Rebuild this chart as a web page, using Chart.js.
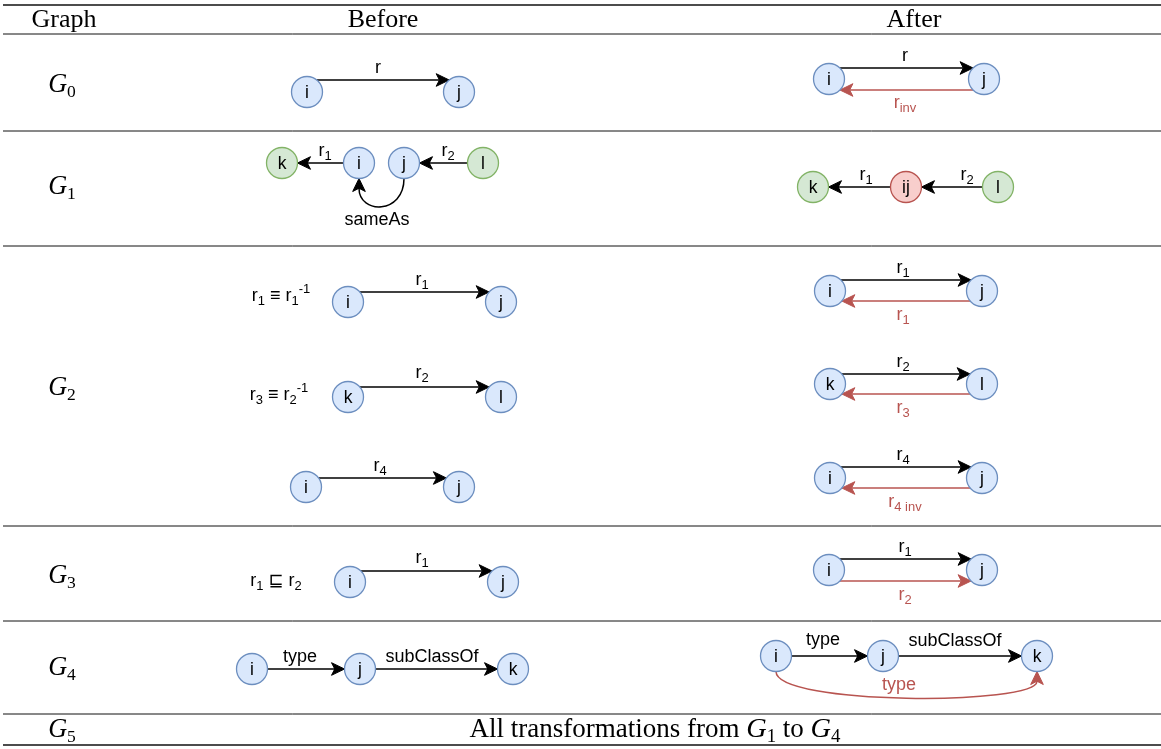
<!DOCTYPE html>
<html><head><meta charset="utf-8">
<script src="https://cdn.jsdelivr.net/npm/chart.js@4/dist/chart.umd.min.js"></script>
<style>html,body{margin:0;padding:0;background:#fff;overflow:hidden}#c{display:block}</style>
</head><body>
<canvas id="c" width="1161" height="749"></canvas>
<script>
// ---------------- data ----------------
const headerText = ['Graph', 'Before', 'After'];
const rowText = ['𝒢_{0}', '𝒢_{1}', '𝒢_{2}', '𝒢_{3}', '𝒢_{4}', '𝒢_{5}'];
const footerText = 'All transformations from 𝒢_{1} to 𝒢_{4}';
const axiomText = ['r_{1} ≡ r_{1}^{-1}', 'r_{3} ≡ r_{2}^{-1}', 'r_{1} ⊑ r_{2}'];

// nodes (graph vertices)
const nodeText = ['i','j', 'i','j', 'k','i','j','l', 'k','ij','l',
  'i','j','k','l','i','j', 'i','j','k','l','i','j',
  'i','j', 'i','j', 'i','j','k', 'i','j','k'];
const nodeKind = ['b','b', 'b','b', 'g','b','b','g', 'g','r','g',
  'b','b','b','b','b','b', 'b','b','b','b','b','b',
  'b','b', 'b','b', 'b','b','b', 'b','b','b'];
const nodeX = [307,459, 829,984, 282,359,404,483, 813,906,998,
  348,501,348,501,306,459, 830,982,830,982,830,982,
  350,503, 829,982, 252,360,513, 776,883,1037];
const nodeY = [92,92, 79,79, 163,163,163,163, 187,187,187,
  302,302,397,397,487,487, 291,291,384,384,478,478,
  582,582, 570,570, 669,669,669, 656,656,656];

// edges (relations)
const edgeFrom = [0, 2,3, 5,7,6, 9,10, 11,13,15, 17,18,19,20,21,22, 23, 25,25, 27,28, 30,31,30];
const edgeTo   = [1, 3,2, 4,6,5, 8,9, 12,14,16, 18,17,20,19,22,21, 24, 26,26, 28,29, 31,32,32];
const edgeText = ['r', 'r','r_{inv}', 'r_{1}','r_{2}','sameAs', 'r_{1}','r_{2}',
  'r_{1}','r_{2}','r_{4}', 'r_{1}','r_{1}','r_{2}','r_{3}','r_{4}','r_{4 inv}',
  'r_{1}', 'r_{1}','r_{2}', 'type','subClassOf', 'type','subClassOf','type'];
const edgeInferred = [0, 0,1, 0,0,0, 0,0, 0,0,0, 0,1,0,1,0,1, 0, 0,1, 0,0, 0,0,1];

// ---------------- layout ----------------
const W = 1161, H = 749;
const headerX = [64, 383, 914], headerBase = 27;
const rowX = 62, rowBase = [92, 194, 395, 583, 675, 737];
const footerX = 655, footerBase = 737;
const ruleY = [5, 34, 131, 246, 526, 621, 714, 745];
const ruleW = [1.7, 1, 1, 1, 1, 1, 1, 1.7];
const axiomX = [281, 279, 276], axiomBase = [301, 400, 586];
const edgeOffset = [-12, -11,11, 0,0,0, 0,0, -10,-10,-9, -11,10,-10,10,-11,10, -11, -11,11, 0,0, 0,0,0];
const edgeBend   = [0, 0,0, 0,0,36, 0,0, 0,0,0, 0,0,0,0,0,0, 0, 0,0, 0,0, 0,0,34];
const edgeLabelX = [378, 905,905, 325,448,377, 866,967, 422,422,380, 903,903,903,903,903,905, 422, 905,905, 300,432, 823,955,899];
const edgeLabelY = [73, 61,108, 156,156,225, 180,180, 285,378,471, 273,320,367,413,460,507, 563, 552,600, 662,662, 645,646,690];

const R = 15.5;
const palette = {
  b: {fill: '#dae8fc', stroke: '#6c8ebf'},
  g: {fill: '#d5e8d4', stroke: '#82b366'},
  r: {fill: '#f8cecc', stroke: '#b85450'}
};
const RED = '#b85450';
const SANS = '"Liberation Sans", "DejaVu Sans", Arial, sans-serif';
const SERIF = '"Liberation Serif", "DejaVu Serif", serif';

// ---------------- rich text helpers ----------------
function parseRich(s) {
  const segs = []; let buf = ''; let i = 0;
  while (i < s.length) {
    const c = s[i];
    if ((c === '_' || c === '^') && s[i + 1] === '{') {
      if (buf) { segs.push({t: buf, m: 0}); buf = ''; }
      const j = s.indexOf('}', i);
      segs.push({t: s.slice(i + 2, j), m: c === '_' ? 1 : -1});
      i = j + 1;
    } else { buf += c; i++; }
  }
  if (buf) segs.push({t: buf, m: 0});
  return segs;
}
function drawRich(ctx, str, x, base, size, family, color, opt) {
  opt = opt || {};
  const subScale = opt.subScale || 0.72;
  const pieces = [];
  parseRich(str).forEach(seg => {
    const sz = seg.m ? size * subScale : size;
    const dy = seg.m === 1 ? size * (opt.subDrop || 0.22) : seg.m === -1 ? -size * 0.42 : 0;
    const parts = seg.t.split(/(𝒢)/u);
    parts.forEach(p => {
      if (!p) return;
      if (p === '𝒢') pieces.push({t: 'G', font: 'italic ' + (sz * 1.05) + 'px ' + SERIF, dy});
      else pieces.push({t: p, font: sz + 'px ' + family, dy});
    });
  });
  let total = 0;
  pieces.forEach(p => { ctx.font = p.font; p.w = ctx.measureText(p.t).width; total += p.w; });
  let cx = opt.align === 'left' ? x : x - total / 2;
  ctx.fillStyle = color; ctx.textBaseline = 'alphabetic'; ctx.textAlign = 'left';
  pieces.forEach(p => { ctx.font = p.font; ctx.fillText(p.t, cx, base + p.dy); cx += p.w; });
}
function arrowHead(ctx, tx, ty, ux, uy, color) {
  const L = 13, Wd = 6.3;
  const bx = tx - ux * L, by = ty - uy * L, nx = -uy, ny = ux;
  ctx.save();
  ctx.fillStyle = color; ctx.strokeStyle = color; ctx.lineWidth = 1; ctx.lineJoin = 'miter';
  ctx.beginPath();
  ctx.moveTo(tx, ty);
  ctx.lineTo(bx + nx * Wd, by + ny * Wd);
  ctx.lineTo(tx - ux * L * 0.75, ty - uy * L * 0.75);
  ctx.lineTo(bx - nx * Wd, by - ny * Wd);
  ctx.closePath(); ctx.fill(); ctx.stroke();
  ctx.restore();
}

// ---------------- plugin ----------------
const diagramPlugin = {
  id: 'diagram',
  beforeDatasetsDraw(chart) {
    const ctx = chart.ctx, xs = chart.scales.x, ys = chart.scales.y;
    const px = v => xs.getPixelForValue(v), py = v => ys.getPixelForValue(v);
    const unit = Math.abs(px(1) - px(0));
    ctx.save();
    ctx.fillStyle = '#fff'; ctx.fillRect(0, 0, chart.width, chart.height);
    // table rules
    ruleY.forEach((y, k) => {
      ctx.strokeStyle = '#111'; ctx.lineWidth = ruleW[k];
      ctx.beginPath(); ctx.moveTo(px(3), py(y)); ctx.lineTo(px(W), py(y)); ctx.stroke();
    });
    // header, row names, footer
    headerText.forEach((t, k) => drawRich(ctx, t, px(headerX[k]), py(headerBase), 26, SERIF, '#000'));
    rowText.forEach((t, k) => drawRich(ctx, t, px(rowX), py(rowBase[k]), 25, SERIF, '#000', {subScale: 0.7, subDrop: 0.18}));
    drawRich(ctx, footerText, px(footerX), py(footerBase), 27, SERIF, '#000', {subScale: 0.7, subDrop: 0.18});
    // axioms
    axiomText.forEach((t, k) => drawRich(ctx, t, px(axiomX[k]), py(axiomBase[k]), 18, SANS, '#000'));
    // edges
    edgeFrom.forEach((a, k) => {
      const b = edgeTo[k];
      const color = edgeInferred[k] ? RED : '#000';
      ctx.strokeStyle = color; ctx.lineWidth = 1.5;
      const r = R * unit;
      if (edgeBend[k]) {
        const sx = px(nodeX[a]), sy = py(nodeY[a]) + r;
        const ex = px(nodeX[b]), ey = py(nodeY[b]) + r;
        const d = edgeBend[k] * unit;
        const eyl = ey + 13 * 0.75;
        ctx.beginPath(); ctx.moveTo(sx, sy);
        ctx.bezierCurveTo(sx, sy + d, ex, ey + d, ex, eyl);
        ctx.stroke();
        arrowHead(ctx, ex, ey, 0, -1, color);
      } else {
        const off = edgeOffset[k] * unit;
        const ax = px(nodeX[a]), ay = py(nodeY[a]);
        const bx = px(nodeX[b]), by = py(nodeY[b]);
        const dir = bx > ax ? 1 : -1;
        const dx = Math.sqrt(Math.max(0, r * r - off * off));
        const sx = ax + dir * dx, ex = bx - dir * dx;
        const y = ay + off;
        ctx.beginPath(); ctx.moveTo(sx, y); ctx.lineTo(ex - dir * 13 * 0.75, y); ctx.stroke();
        arrowHead(ctx, ex, y, dir, 0, color);
      }
      drawRich(ctx, edgeText[k], px(edgeLabelX[k]), py(edgeLabelY[k]), 18, SANS, color);
    });
    ctx.restore();
  },
  afterDatasetsDraw(chart) {
    const ctx = chart.ctx, xs = chart.scales.x, ys = chart.scales.y;
    ctx.save();
    ctx.fillStyle = '#000'; ctx.font = '17.5px ' + SANS; ctx.textAlign = 'center'; ctx.textBaseline = 'alphabetic';
    nodeText.forEach((t, k) => ctx.fillText(t, xs.getPixelForValue(nodeX[k]), ys.getPixelForValue(nodeY[k]) + 6));
    ctx.restore();
  }
};

// ---------------- chart ----------------
const datasets = ['b', 'g', 'r'].map(kind => ({
  label: kind,
  data: nodeX.map((x, k) => ({x, y: nodeY[k], k})).filter(p => nodeKind[p.k] === kind),
  pointRadius: R, pointHoverRadius: R,
  pointBackgroundColor: palette[kind].fill,
  pointBorderColor: palette[kind].stroke,
  pointBorderWidth: 1.3,
  showLine: false,
  clip: false
}));

new Chart(document.getElementById('c'), {
  type: 'scatter',
  data: {datasets},
  options: {
    responsive: false, animation: false, devicePixelRatio: 1,
    layout: {padding: 0, autoPadding: false},
    events: [],
    scales: {
      x: {type: 'linear', min: 0, max: W, display: false},
      y: {type: 'linear', min: 0, max: H, reverse: true, display: false}
    },
    plugins: {legend: {display: false}, tooltip: {enabled: false}}
  },
  plugins: [diagramPlugin]
});
</script>
</body></html>
